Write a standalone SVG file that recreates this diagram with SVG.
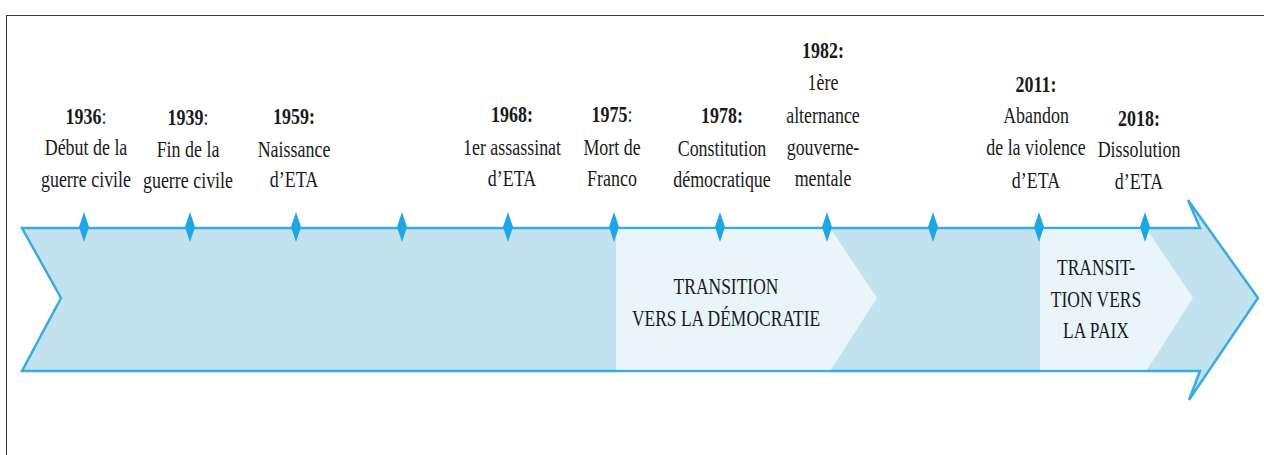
<svg xmlns="http://www.w3.org/2000/svg" width="1264" height="455" viewBox="0 0 1264 455">
<style>
  .t text { font-family: "Liberation Serif", "DejaVu Serif", serif; font-size: 23px; fill: #1a1a1a; text-anchor: middle; }
  .b { font-weight: bold; }
  .r { font-weight: normal; }
  .arrow { fill: #c1e2ee; stroke: #3aabdf; stroke-width: 2.5; stroke-linejoin: miter; }
  .light { fill: #e9f5fa; }
  .tick { fill: #1ea6e3; }
</style>
<defs>
  <polygon id="dia" points="0,212 5,227 0,242 -5,227"/>
</defs>
<rect width="1264" height="455" fill="#ffffff"/>
<rect x="6.5" y="15.5" width="1300" height="500" fill="none" stroke="#3a3a3a" stroke-width="1"/>

<g id="timeline">
  <polygon class="arrow" points="22,228 1200,228 1188,200 1258,298 1189,400 1200,371 22,371 61,298"/>
  <polygon class="light" points="616,229.3 831,229.3 877,298 831,369.7 616,369.7"/>
  <polygon class="light" points="1040,229.3 1147,229.3 1193,298 1147,369.7 1040,369.7"/>
</g>

<g id="ticks" class="tick">
  <use href="#dia" x="84"/>
  <use href="#dia" x="190"/>
  <use href="#dia" x="296"/>
  <use href="#dia" x="402"/>
  <use href="#dia" x="508"/>
  <use href="#dia" x="614"/>
  <use href="#dia" x="720"/>
  <use href="#dia" x="827"/>
  <use href="#dia" x="933"/>
  <use href="#dia" x="1039"/>
  <use href="#dia" x="1145"/>
</g>

<g class="t" font-family="Liberation Serif, serif">
<g id="e1936" transform="translate(86,0) scale(0.78,1)">
  <text y="124"><tspan class="b">1936</tspan><tspan class="r">:</tspan></text>
  <text y="155">Début de la</text>
  <text y="187">guerre civile</text>
</g>
<g id="e1939" transform="translate(188,0) scale(0.78,1)">
  <text y="125"><tspan class="b">1939</tspan><tspan class="r">:</tspan></text>
  <text y="157">Fin de la</text>
  <text y="188">guerre civile</text>
</g>
<g id="e1959" transform="translate(294,0) scale(0.78,1)">
  <text y="124" class="b">1959:</text>
  <text y="157">Naissance</text>
  <text y="187">d’ETA</text>
</g>
<g id="e1968" transform="translate(512,0) scale(0.78,1)">
  <text y="122" class="b">1968:</text>
  <text y="155">1er assassinat</text>
  <text y="186">d’ETA</text>
</g>
<g id="e1975" transform="translate(612,0) scale(0.78,1)">
  <text y="122"><tspan class="b">1975</tspan><tspan class="r">:</tspan></text>
  <text y="155">Mort de</text>
  <text y="186">Franco</text>
</g>
<g id="e1978" transform="translate(722,0) scale(0.78,1)">
  <text y="123" class="b">1978:</text>
  <text y="156">Constitution</text>
  <text y="187">démocratique</text>
</g>
<g id="e1982" transform="translate(823,0) scale(0.78,1)">
  <text y="58" class="b">1982:</text>
  <text y="90">1ère</text>
  <text y="123">alternance</text>
  <text y="155">gouverne-</text>
  <text y="186">mentale</text>
</g>
<g id="e2011" transform="translate(1036,0) scale(0.78,1)">
  <text y="92" class="b">2011:</text>
  <text y="123">Abandon</text>
  <text y="155">de la violence</text>
  <text y="188">d’ETA</text>
</g>
<g id="e2018" transform="translate(1139,0) scale(0.78,1)">
  <text y="126" class="b">2018:</text>
  <text y="157">Dissolution</text>
  <text y="189">d’ETA</text>
</g>

<g id="p-democratie" transform="translate(726,0) scale(0.76,1)">
  <text y="294">TRANSITION</text>
  <text y="326">VERS LA DÉMOCRATIE</text>
</g>
<g id="p-paix" transform="translate(1096,0) scale(0.76,1)">
  <text y="275">TRANSIT-</text>
  <text y="307">TION VERS</text>
  <text y="338">LA PAIX</text>
</g>
</g>
</svg>
